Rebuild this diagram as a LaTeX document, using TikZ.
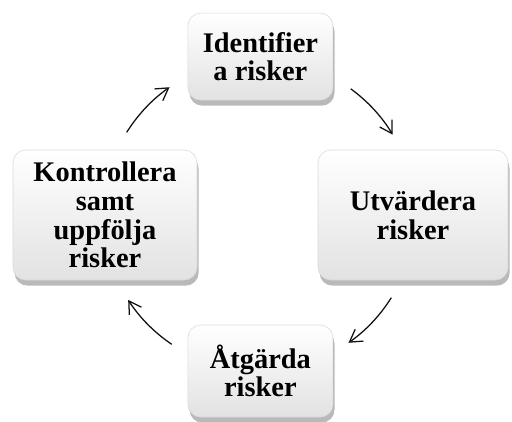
\documentclass[tikz,border=0pt]{standalone}
\usepackage{fontspec}
\setmainfont{Liberation Serif}
\usepackage{tikz}
\usetikzlibrary{positioning,arrows.meta,shadows,calc}
\definecolor{ink}{HTML}{111111}
\definecolor{boxtop}{HTML}{FFFFFF}
\definecolor{boxbot}{HTML}{E2E2E2}
\definecolor{boxline}{HTML}{DADADA}
\tikzset{
  riskbox/.style={rectangle,rounded corners=3.2mm,draw=boxline,top color=boxtop,bottom color=boxbot,
    align=center,inner sep=2pt,font=\fontsize{20.2}{20.4}\selectfont\bfseries,
    drop shadow={shadow xshift=0.4mm,shadow yshift=-1.4mm,opacity=0.55}},
  ar/.style={-{Straight Barb[length=3mm,width=3.6mm]},line width=0.9pt,draw=ink},
}
\begin{document}
\begin{tikzpicture}
  \useasboundingbox (0,0) rectangle (12.8,10.525);
  \coordinate (c) at (6.475,5.15);
  \def\r{3.9}
  % the four steps
  \node[riskbox,minimum width=3.625cm,minimum height=2.175cm] (ident) at (6.51,9.11) {Identifier\\a risker};
  \node[riskbox,minimum width=4.75cm,minimum height=3.25cm] (utv) at (10.325,5.15) {Utvärdera\\risker};
  \node[riskbox,minimum width=3.625cm,minimum height=2.3cm] (atg) at (6.51,1.25) {Åtgärda\\risker};
  \node[riskbox,minimum width=4.6cm,minimum height=3.25cm] (kontr) at (2.625,5.15) {Kontrollera\\samt\\uppfölja\\risker};
  % arc ends
  \coordinate (a1) at ($(c)+(148:\r)$);
  \coordinate (a2) at ($(c)+(54:\r)$);
  \coordinate (a3) at ($(c)+(-32:\r)$);
  \coordinate (a4) at ($(c)+(236:\r)$);
  \draw[ar] (a1) arc[start angle=148,end angle=125,radius=\r];
  \draw[ar] (a2) arc[start angle=54,end angle=31,radius=\r];
  \draw[ar] (a3) arc[start angle=-32,end angle=-55,radius=\r];
  \draw[ar] (a4) arc[start angle=236,end angle=213,radius=\r];
\end{tikzpicture}
\end{document}
